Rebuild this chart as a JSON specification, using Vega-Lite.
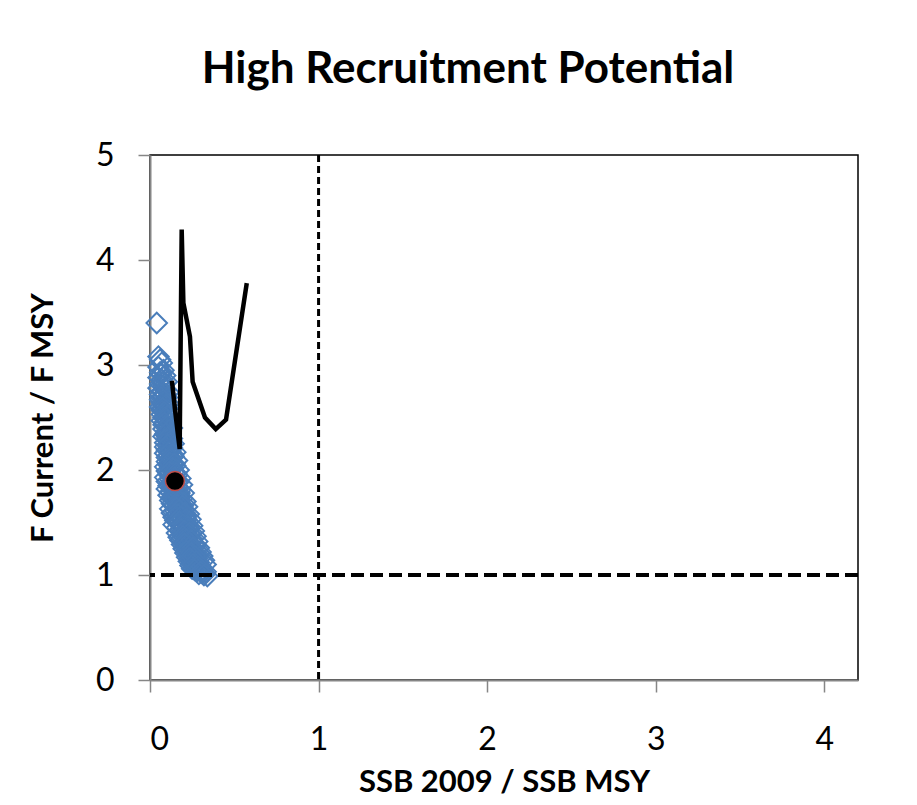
{
  "$schema": "https://vega.github.io/schema/vega-lite/v6.json",
  "autosize": {"type": "none"},
  "width": 708,
  "height": 525,
  "padding": {"left": 150, "top": 155, "right": 59, "bottom": 125},
  "background": "white",
  "config": {
    "font": "Lato",
    "view": {"stroke": "black", "strokeWidth": 1.5},
    "axis": {
      "grid": false,
      "domainColor": "#868686",
      "domainWidth": 2,
      "tickColor": "#868686",
      "tickWidth": 1.5,
      "tickSize": 12,
      "labelColor": "black",
      "labelFont": "Lato",
      "labelFontSize": 32,
      "labelFontWeight": "normal",
      "format": "d",
      "titleColor": "black",
      "titleFont": "Lato",
      "titleFontSize": 31,
      "titleFontWeight": "bold",
      "zindex": 1
    }
  },
  "title": {
    "text": "High Recruitment Potential",
    "font": "Lato",
    "fontSize": 44,
    "fontWeight": "bold",
    "color": "black",
    "anchor": "middle",
    "baseline": "alphabetic",
    "dx": -36,
    "offset": 12
  },
  "datasets": {
    "draws": [
      {"ssb": 0.04, "f": 3.40}, {"ssb": 0.05, "f": 3.08}, {"ssb": 0.06, "f": 3.05}, {"ssb": 0.07, "f": 3.02},
      {"ssb": 0.05, "f": 2.98}, {"ssb": 0.08, "f": 2.95}, {"ssb": 0.06, "f": 2.93}, {"ssb": 0.09, "f": 2.90},
      {"ssb": 0.05, "f": 2.88}, {"ssb": 0.07, "f": 2.86}, {"ssb": 0.10, "f": 2.84}, {"ssb": 0.06, "f": 2.82},
      {"ssb": 0.08, "f": 2.80}, {"ssb": 0.05, "f": 2.78}, {"ssb": 0.09, "f": 2.77}, {"ssb": 0.07, "f": 2.75},
      {"ssb": 0.11, "f": 2.74}, {"ssb": 0.06, "f": 2.72}, {"ssb": 0.08, "f": 2.70}, {"ssb": 0.10, "f": 2.69},
      {"ssb": 0.06, "f": 2.67}, {"ssb": 0.09, "f": 2.66}, {"ssb": 0.07, "f": 2.64}, {"ssb": 0.11, "f": 2.63},
      {"ssb": 0.08, "f": 2.61}, {"ssb": 0.06, "f": 2.60}, {"ssb": 0.10, "f": 2.58}, {"ssb": 0.07, "f": 2.57},
      {"ssb": 0.12, "f": 2.56}, {"ssb": 0.09, "f": 2.54}, {"ssb": 0.07, "f": 2.53}, {"ssb": 0.11, "f": 2.51},
      {"ssb": 0.08, "f": 2.50}, {"ssb": 0.10, "f": 2.48}, {"ssb": 0.07, "f": 2.47}, {"ssb": 0.12, "f": 2.46},
      {"ssb": 0.09, "f": 2.44}, {"ssb": 0.08, "f": 2.43}, {"ssb": 0.11, "f": 2.41}, {"ssb": 0.13, "f": 2.40},
      {"ssb": 0.08, "f": 2.39}, {"ssb": 0.10, "f": 2.37}, {"ssb": 0.12, "f": 2.36}, {"ssb": 0.09, "f": 2.34},
      {"ssb": 0.11, "f": 2.33}, {"ssb": 0.08, "f": 2.32}, {"ssb": 0.13, "f": 2.30}, {"ssb": 0.10, "f": 2.29},
      {"ssb": 0.12, "f": 2.27}, {"ssb": 0.09, "f": 2.26}, {"ssb": 0.14, "f": 2.25}, {"ssb": 0.11, "f": 2.23},
      {"ssb": 0.09, "f": 2.22}, {"ssb": 0.13, "f": 2.21}, {"ssb": 0.10, "f": 2.19}, {"ssb": 0.12, "f": 2.18},
      {"ssb": 0.15, "f": 2.17}, {"ssb": 0.09, "f": 2.16}, {"ssb": 0.11, "f": 2.14}, {"ssb": 0.14, "f": 2.13},
      {"ssb": 0.10, "f": 2.12}, {"ssb": 0.12, "f": 2.10}, {"ssb": 0.16, "f": 2.09}, {"ssb": 0.10, "f": 2.08},
      {"ssb": 0.13, "f": 2.06}, {"ssb": 0.11, "f": 2.05}, {"ssb": 0.15, "f": 2.04}, {"ssb": 0.09, "f": 2.03},
      {"ssb": 0.12, "f": 2.01}, {"ssb": 0.17, "f": 2.00}, {"ssb": 0.10, "f": 1.99}, {"ssb": 0.14, "f": 1.98},
      {"ssb": 0.11, "f": 1.96}, {"ssb": 0.16, "f": 1.95}, {"ssb": 0.13, "f": 1.94}, {"ssb": 0.09, "f": 1.93},
      {"ssb": 0.18, "f": 1.92}, {"ssb": 0.12, "f": 1.91}, {"ssb": 0.15, "f": 1.90}, {"ssb": 0.10, "f": 1.89},
      {"ssb": 0.14, "f": 1.87}, {"ssb": 0.19, "f": 1.86}, {"ssb": 0.11, "f": 1.85}, {"ssb": 0.16, "f": 1.84},
      {"ssb": 0.13, "f": 1.83}, {"ssb": 0.10, "f": 1.82}, {"ssb": 0.18, "f": 1.81}, {"ssb": 0.15, "f": 1.80},
      {"ssb": 0.12, "f": 1.79}, {"ssb": 0.20, "f": 1.78}, {"ssb": 0.14, "f": 1.77}, {"ssb": 0.11, "f": 1.76},
      {"ssb": 0.17, "f": 1.75}, {"ssb": 0.13, "f": 1.74}, {"ssb": 0.19, "f": 1.73}, {"ssb": 0.15, "f": 1.72},
      {"ssb": 0.12, "f": 1.71}, {"ssb": 0.21, "f": 1.70}, {"ssb": 0.16, "f": 1.69}, {"ssb": 0.13, "f": 1.68},
      {"ssb": 0.18, "f": 1.67}, {"ssb": 0.14, "f": 1.66}, {"ssb": 0.22, "f": 1.65}, {"ssb": 0.17, "f": 1.64},
      {"ssb": 0.12, "f": 1.63}, {"ssb": 0.20, "f": 1.62}, {"ssb": 0.15, "f": 1.61}, {"ssb": 0.19, "f": 1.60},
      {"ssb": 0.13, "f": 1.59}, {"ssb": 0.23, "f": 1.58}, {"ssb": 0.16, "f": 1.57}, {"ssb": 0.21, "f": 1.56},
      {"ssb": 0.14, "f": 1.55}, {"ssb": 0.18, "f": 1.54}, {"ssb": 0.24, "f": 1.53}, {"ssb": 0.15, "f": 1.52},
      {"ssb": 0.20, "f": 1.51}, {"ssb": 0.17, "f": 1.50}, {"ssb": 0.22, "f": 1.49}, {"ssb": 0.14, "f": 1.48},
      {"ssb": 0.25, "f": 1.47}, {"ssb": 0.19, "f": 1.46}, {"ssb": 0.16, "f": 1.45}, {"ssb": 0.23, "f": 1.44},
      {"ssb": 0.18, "f": 1.43}, {"ssb": 0.26, "f": 1.42}, {"ssb": 0.21, "f": 1.41}, {"ssb": 0.16, "f": 1.40},
      {"ssb": 0.24, "f": 1.39}, {"ssb": 0.19, "f": 1.38}, {"ssb": 0.27, "f": 1.37}, {"ssb": 0.17, "f": 1.36},
      {"ssb": 0.22, "f": 1.35}, {"ssb": 0.25, "f": 1.34}, {"ssb": 0.18, "f": 1.33}, {"ssb": 0.28, "f": 1.32},
      {"ssb": 0.21, "f": 1.31}, {"ssb": 0.24, "f": 1.30}, {"ssb": 0.19, "f": 1.29}, {"ssb": 0.27, "f": 1.28},
      {"ssb": 0.22, "f": 1.27}, {"ssb": 0.29, "f": 1.26}, {"ssb": 0.20, "f": 1.25}, {"ssb": 0.25, "f": 1.24},
      {"ssb": 0.23, "f": 1.23}, {"ssb": 0.30, "f": 1.22}, {"ssb": 0.21, "f": 1.21}, {"ssb": 0.27, "f": 1.20},
      {"ssb": 0.24, "f": 1.19}, {"ssb": 0.31, "f": 1.18}, {"ssb": 0.22, "f": 1.17}, {"ssb": 0.28, "f": 1.16},
      {"ssb": 0.25, "f": 1.15}, {"ssb": 0.32, "f": 1.14}, {"ssb": 0.23, "f": 1.13}, {"ssb": 0.29, "f": 1.12},
      {"ssb": 0.26, "f": 1.11}, {"ssb": 0.33, "f": 1.10}, {"ssb": 0.24, "f": 1.09}, {"ssb": 0.30, "f": 1.08},
      {"ssb": 0.27, "f": 1.07}, {"ssb": 0.25, "f": 1.06}, {"ssb": 0.31, "f": 1.05}, {"ssb": 0.28, "f": 1.04},
      {"ssb": 0.33, "f": 1.03}, {"ssb": 0.31, "f": 1.02}, {"ssb": 0.29, "f": 1.01}, {"ssb": 0.34, "f": 0.99},
      {"ssb": 0.065, "f": 2.91}, {"ssb": 0.075, "f": 2.83}, {"ssb": 0.085, "f": 2.73}, {"ssb": 0.065, "f": 2.69},
      {"ssb": 0.095, "f": 2.62}, {"ssb": 0.075, "f": 2.59}, {"ssb": 0.085, "f": 2.55}, {"ssb": 0.105, "f": 2.52},
      {"ssb": 0.095, "f": 2.49}, {"ssb": 0.085, "f": 2.45}, {"ssb": 0.105, "f": 2.42}, {"ssb": 0.115, "f": 2.38},
      {"ssb": 0.095, "f": 2.35}, {"ssb": 0.105, "f": 2.31}, {"ssb": 0.125, "f": 2.28}, {"ssb": 0.105, "f": 2.24},
      {"ssb": 0.125, "f": 2.20}, {"ssb": 0.115, "f": 2.17}, {"ssb": 0.135, "f": 2.15}, {"ssb": 0.125, "f": 2.11},
      {"ssb": 0.115, "f": 2.07}, {"ssb": 0.145, "f": 2.06}, {"ssb": 0.135, "f": 2.02}, {"ssb": 0.115, "f": 1.98},
      {"ssb": 0.155, "f": 1.97}, {"ssb": 0.145, "f": 1.93}, {"ssb": 0.125, "f": 1.88}, {"ssb": 0.165, "f": 1.88},
      {"ssb": 0.155, "f": 1.82}, {"ssb": 0.135, "f": 1.81}, {"ssb": 0.175, "f": 1.78}, {"ssb": 0.155, "f": 1.76},
      {"ssb": 0.145, "f": 1.73}, {"ssb": 0.175, "f": 1.71}, {"ssb": 0.165, "f": 1.67}, {"ssb": 0.195, "f": 1.66},
      {"ssb": 0.155, "f": 1.64}, {"ssb": 0.175, "f": 1.62}, {"ssb": 0.205, "f": 1.59}, {"ssb": 0.165, "f": 1.58},
      {"ssb": 0.185, "f": 1.56}, {"ssb": 0.215, "f": 1.53}, {"ssb": 0.175, "f": 1.51}, {"ssb": 0.195, "f": 1.48},
      {"ssb": 0.225, "f": 1.46}, {"ssb": 0.185, "f": 1.44}, {"ssb": 0.205, "f": 1.42}, {"ssb": 0.235, "f": 1.40},
      {"ssb": 0.195, "f": 1.37}, {"ssb": 0.215, "f": 1.34}, {"ssb": 0.245, "f": 1.33}, {"ssb": 0.205, "f": 1.30},
      {"ssb": 0.235, "f": 1.27}, {"ssb": 0.255, "f": 1.26}, {"ssb": 0.215, "f": 1.23}, {"ssb": 0.245, "f": 1.21},
      {"ssb": 0.265, "f": 1.18}, {"ssb": 0.235, "f": 1.16}, {"ssb": 0.275, "f": 1.13}, {"ssb": 0.255, "f": 1.10},
      {"ssb": 0.285, "f": 1.08}, {"ssb": 0.265, "f": 1.05}, {"ssb": 0.30, "f": 1.03}, {"ssb": 0.32, "f": 1.00}
    ],
    "trajectory": [
      {"step": 1, "ssb": 0.130, "f": 2.85},
      {"step": 2, "ssb": 0.150, "f": 2.55},
      {"step": 3, "ssb": 0.176, "f": 2.20},
      {"step": 4, "ssb": 0.188, "f": 4.29},
      {"step": 5, "ssb": 0.198, "f": 3.59},
      {"step": 6, "ssb": 0.237, "f": 3.27},
      {"step": 7, "ssb": 0.253, "f": 2.84},
      {"step": 8, "ssb": 0.326, "f": 2.50},
      {"step": 9, "ssb": 0.390, "f": 2.39},
      {"step": 10, "ssb": 0.451, "f": 2.48},
      {"step": 11, "ssb": 0.574, "f": 3.78}
    ],
    "current": [
      {"ssb": 0.148, "f": 1.895}
    ],
    "reference": [
      {"ssb_ref": 1, "f_ref": 1}
    ]
  },
  "layer": [
    {
      "data": {"name": "draws"},
      "mark": {"type": "point", "shape": "diamond", "filled": false, "color": "#4a7ebb", "strokeWidth": 2, "size": 420, "opacity": 1},
      "encoding": {
        "x": {
          "field": "ssb", "type": "quantitative",
          "scale": {"domain": [0, 4.2], "nice": false, "zero": true},
          "axis": {
            "title": "SSB 2009 / SSB MSY",
            "values": [0, 1, 2, 3, 4],
            "labelPadding": 32,
            "titlePadding": 12
          }
        },
        "y": {
          "field": "f", "type": "quantitative",
          "scale": {"domain": [0, 5], "nice": false},
          "axis": {
            "title": "F Current  / F MSY",
            "values": [0, 1, 2, 3, 4, 5],
            "labelPadding": 24,
            "titlePadding": 36
          }
        }
      }
    },
    {
      "data": {"name": "trajectory"},
      "mark": {"type": "line", "color": "black", "strokeWidth": 4.5, "strokeJoin": "miter", "clip": true},
      "encoding": {
        "x": {"field": "ssb", "type": "quantitative"},
        "y": {"field": "f", "type": "quantitative"},
        "order": {"field": "step", "type": "quantitative"}
      }
    },
    {
      "data": {"name": "reference"},
      "mark": {"type": "rule", "color": "black", "strokeWidth": 3, "strokeDash": [7, 4]},
      "encoding": {"x": {"field": "ssb_ref", "type": "quantitative"}}
    },
    {
      "data": {"name": "reference"},
      "mark": {"type": "rule", "color": "black", "strokeWidth": 4, "strokeDash": [13, 6]},
      "encoding": {"y": {"field": "f_ref", "type": "quantitative"}}
    },
    {
      "data": {"name": "current"},
      "mark": {"type": "point", "shape": "circle", "filled": true, "fill": "black", "stroke": "#c0504d", "strokeWidth": 1.5, "size": 361, "opacity": 1},
      "encoding": {
        "x": {"field": "ssb", "type": "quantitative"},
        "y": {"field": "f", "type": "quantitative"}
      }
    }
  ]
}
